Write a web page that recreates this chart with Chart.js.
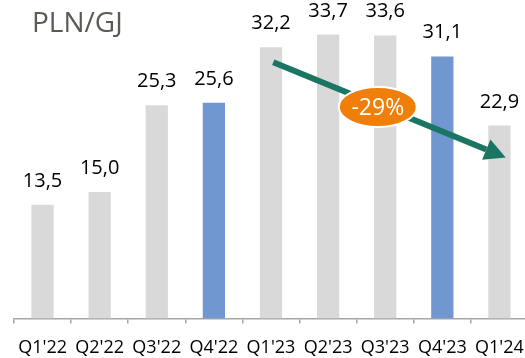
<!DOCTYPE html>
<html>
<head>
<meta charset="utf-8">
<script src="https://cdn.jsdelivr.net/npm/chart.js@4.4.1/dist/chart.umd.min.js"></script>
<style>
  html, body { margin: 0; padding: 0; background: #fff; overflow: hidden; }
  #wrap { width: 528px; height: 358px; }
</style>
</head>
<body>
<div id="wrap"><canvas id="grafico" width="528" height="358"></canvas></div>
<script>
const kwartaly = ["Q1'22", "Q2'22", "Q3'22", "Q4'22", "Q1'23", "Q2'23", "Q3'23", "Q4'23", "Q1'24"];
const ceny = [13.5, 15.0, 25.3, 25.6, 32.2, 33.7, 33.6, 31.1, 22.9];
const kolory = ["#d9d9d9", "#d9d9d9", "#d9d9d9", "#7197d0", "#d9d9d9", "#d9d9d9", "#d9d9d9", "#7197d0", "#d9d9d9"];
const jednostka = "PLN/GJ";
const zmiana = "-29%";

// strzałka trendu w jednostkach osi: [indeks kategorii, wartość]
const strzalkaOd = [4.04, 30.4];
const strzalkaDo = [8.11, 19.1];
const etykietaZmiany = [5.87, 25.1];

const etykiety = {
    id: "etykiety",
    afterDatasetsDraw(chart) {
        const ctx = chart.ctx;
        const x = chart.scales.x, y = chart.scales.y;
        ctx.save();

        // wartości nad słupkami
        ctx.font = "20px 'Open Sans'";
        ctx.fillStyle = "#000";
        ctx.textAlign = "center";
        ctx.textBaseline = "alphabetic";
        chart.getDatasetMeta(0).data.forEach((bar, i) => {
            ctx.fillText(ceny[i].toFixed(1).replace(".", ","), bar.x, bar.y - 18);
        });

        // jednostka
        ctx.font = "28px 'Open Sans'";
        ctx.fillStyle = "#5b5b53";
        ctx.textAlign = "left";
        ctx.fillText(jednostka, 32, 32);

        // strzałka
        const x1 = x.getPixelForValue(strzalkaOd[0]), y1 = y.getPixelForValue(strzalkaOd[1]);
        const x2 = x.getPixelForValue(strzalkaDo[0]), y2 = y.getPixelForValue(strzalkaDo[1]);
        const kat = Math.atan2(y2 - y1, x2 - x1);
        const dl = 21, pol = 11;
        const bx = x2 - dl * Math.cos(kat), by = y2 - dl * Math.sin(kat);
        ctx.strokeStyle = "#1b7563";
        ctx.fillStyle = "#1b7563";
        ctx.lineWidth = 6;
        ctx.beginPath();
        ctx.moveTo(x1, y1);
        ctx.lineTo(bx, by);
        ctx.stroke();
        ctx.beginPath();
        ctx.moveTo(x2, y2);
        ctx.lineTo(bx + pol * Math.sin(kat), by - pol * Math.cos(kat));
        ctx.lineTo(bx - pol * Math.sin(kat), by + pol * Math.cos(kat));
        ctx.closePath();
        ctx.fill();

        // elipsa ze zmianą procentową
        const ex = x.getPixelForValue(etykietaZmiany[0]), ey = y.getPixelForValue(etykietaZmiany[1]);
        ctx.beginPath();
        ctx.ellipse(ex, ey, 39, 20, 0, 0, Math.PI * 2);
        ctx.fillStyle = "#f07f09";
        ctx.fill();
        ctx.lineWidth = 2;
        ctx.strokeStyle = "#fff";
        ctx.stroke();
        ctx.font = "23px 'Open Sans'";
        ctx.fillStyle = "#fff";
        ctx.textAlign = "center";
        ctx.textBaseline = "middle";
        ctx.fillText(zmiana, ex, ey + 1);

        ctx.restore();
    }
};

new Chart(document.getElementById("grafico"), {
    type: "bar",
    data: {
        labels: kwartaly,
        datasets: [{
            data: ceny,
            backgroundColor: kolory,
            categoryPercentage: 1,
            barPercentage: 0.39
        }]
    },
    options: {
        responsive: false,
        animation: false,
        layout: { padding: { left: 14, right: 0, top: 0, bottom: -15 } },
        plugins: {
            legend: { display: false },
            tooltip: { enabled: false }
        },
        scales: {
            y: {
                display: false,
                min: 0,
                max: 37.8
            },
            x: {
                // bez dodatkowego marginesu na wystające etykiety
                afterFit(scale) {
                    scale.paddingLeft = 0;
                    scale.paddingRight = 0;
                },
                border: { display: true, color: "#a6a6a6", width: 1.5 },
                grid: {
                    offset: true,
                    drawOnChartArea: false,
                    drawTicks: true,
                    tickLength: 5,
                    color: "#a6a6a6",
                    lineWidth: 1.5
                },
                ticks: {
                    color: "#000",
                    padding: 14,
                    maxRotation: 0,
                    autoSkip: false,
                    font: { family: "'Open Sans'", size: 18 }
                }
            }
        }
    },
    plugins: [etykiety]
});
</script>
</body>
</html>
